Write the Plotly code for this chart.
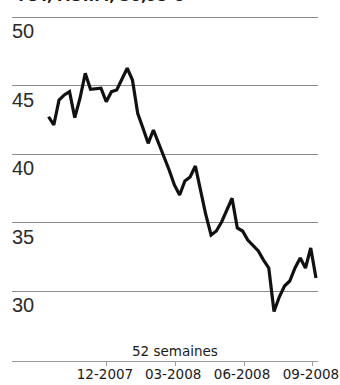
import pandas as pd
import plotly.graph_objects as go

# Weekly closing prices over 52 weeks (Friday closes)
week_dates = pd.date_range("2007-09-14", periods=52, freq="7D")
closes = [
    42.72, 42.12, 43.94, 44.31, 44.55, 42.65, 44.07, 45.89, 44.72, 44.74,
    44.80, 43.82, 44.55, 44.67, 45.47, 46.26, 45.40, 42.97, 41.90, 40.78,
    41.75, 40.80, 39.85, 38.83, 37.74, 37.01, 38.03, 38.32, 39.12, 37.23,
    35.55, 34.09, 34.38, 35.04, 35.91, 36.77, 34.60, 34.38, 33.72, 33.28,
    32.92, 32.26, 31.68, 28.50, 29.56, 30.36, 30.73, 31.68, 32.41, 31.68,
    33.14, 30.95,
]

y_ticks = [30, 35, 40, 45, 50]
x_tick_dates = ["2007-12-01", "2008-03-01", "2008-06-01", "2008-09-01"]
x_tick_labels = ["12-2007", "03-2008", "06-2008", "09-2008"]
title_text = "TOT, ACT.M, 30,95 €"
period_text = "52 semaines"

W, H = 340, 385

fig = go.Figure()
fig.add_trace(go.Scatter(
    x=week_dates, y=closes, mode="lines",
    line=dict(color="#111111", width=3.2, shape="linear"),
    hoverinfo="skip", showlegend=False,
))

fig.update_layout(
    width=W, height=H,
    margin=dict(l=0, r=0, t=0, b=0, autoexpand=False),
    paper_bgcolor="white", plot_bgcolor="white",
    showlegend=False,
    xaxis=dict(
        domain=[12 / W, 318 / W],
        range=["2007-07-27 05:00", "2008-09-07 17:00"],
        anchor="free", position=(H - 361) / H,
        automargin=False,
        showgrid=False, zeroline=False,
        showline=True, linecolor="#9a9a9a", linewidth=1,
        tickmode="array", tickvals=x_tick_dates, ticktext=x_tick_labels,
        ticks="outside", ticklen=4, tickcolor="#9a9a9a", tickwidth=1,
        ticklabeloverflow="allow", ticklabelstandoff=-3, ticklabelshift=-2,
        tickfont=dict(family="DejaVu Sans", size=13.5, color="#1a1a1a"),
    ),
    yaxis=dict(
        domain=[0, 1],
        range=[23.139, 51.241],
        automargin=False,
        showgrid=True, gridcolor="#8c8c8c", gridwidth=1,
        zeroline=False, showline=False,
        tickmode="array", tickvals=y_ticks, ticktext=[str(v) for v in y_ticks],
        ticks="", ticklabelposition="inside bottom", ticklabelstandoff=-3,
        tickfont=dict(family="Liberation Sans", size=20, color="#2a2a2a"),
    ),
    annotations=[
        dict(text=period_text, xref="paper", yref="paper",
             x=175 / W, y=(H - 351) / H, xanchor="center", yanchor="middle",
             showarrow=False,
             font=dict(family="DejaVu Sans", size=13.5, color="#1a1a1a")),
        dict(text="<b>" + title_text + "</b>", xref="paper", yref="paper",
             x=14 / W, y=(H - 7) / H, xanchor="left", yanchor="bottom",
             showarrow=False,
             font=dict(family="DejaVu Sans", size=15, color="#1a1a1a")),
    ],
)

fig.write_html("out.html")
